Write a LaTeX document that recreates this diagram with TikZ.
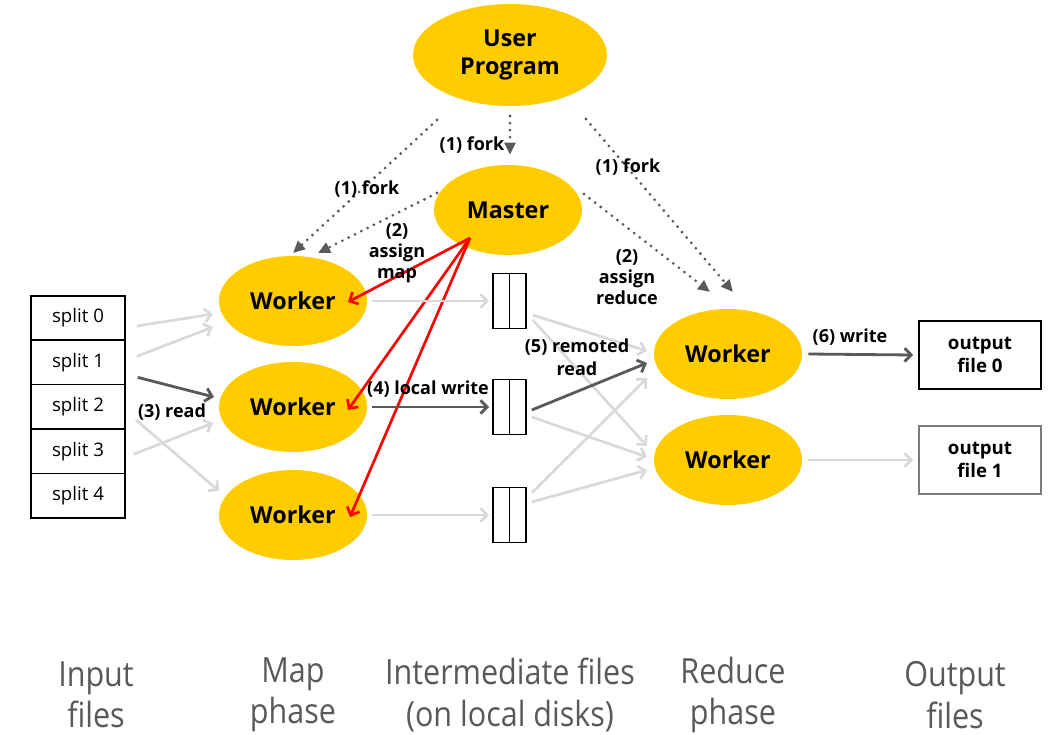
\documentclass[tikz,border=0pt]{standalone}
\usepackage{fontspec}
\setmainfont{Open Sans}
\newfontfamily\phasefont[FakeStretch=0.88]{Open Sans}
\usetikzlibrary{shapes.geometric,arrows.meta,calc}
\definecolor{procyellow}{HTML}{FFCC00}
\definecolor{darkline}{HTML}{595959}
\definecolor{liteline}{HTML}{D9D9D9}
\definecolor{phasegray}{HTML}{595959}
\begin{document}
\begin{tikzpicture}[x=0.75pt,y=-0.75pt,
  proc/.style={ellipse, fill=procyellow, draw=none, minimum width=111pt,
    minimum height=67.5pt, inner sep=0pt, align=center,
    font=\bfseries\fontsize{17.5}{20.5}\selectfont},
  splitbox/.style={draw=black, line width=1.2pt, minimum width=70.5pt,
    minimum height=33.3pt, inner sep=0pt, font=\fontsize{14}{16}\selectfont},
  disk/.style={draw=black, line width=1.2pt, minimum width=24.75pt,
    minimum height=41.25pt, inner sep=0pt},
  outbox/.style={draw=black, line width=1.2pt, minimum width=91.5pt,
    minimum height=51pt, inner sep=0pt, align=center,
    font=\bfseries\fontsize{14}{17}\selectfont},
  lbl/.style={inner sep=0pt, align=center, font=\bfseries\fontsize{13.5}{15.5}\selectfont},
  phase/.style={inner sep=0pt, align=center, text=phasegray,
    font=\phasefont\fontsize{26}{31}\selectfont},
  lite/.style={draw=liteline, line width=2pt, -{Straight Barb[length=5pt,width=10pt]}},
  dark/.style={draw=darkline, line width=2.1pt, -{Straight Barb[length=5pt,width=10pt]}},
  redarrow/.style={draw=red, line width=2pt, -{Straight Barb[length=5pt,width=10pt]}},
  forkline/.style={draw=darkline, line width=2.3pt, line cap=round,
    dash pattern=on 0pt off 5.3pt, -{Triangle[length=9pt,width=8pt]}},
]
\useasboundingbox (0,0) rectangle (1054,735);

% processes
\node[proc, minimum width=145.5pt, minimum height=76.5pt] (up) at (510,55) {User\\Program};
\node[proc] (master) at (508,210) {Master};
\node[proc] (w1) at (293,301) {Worker};
\node[proc] (w2) at (293,407) {Worker};
\node[proc] (w3) at (293,515) {Worker};
\node[proc] (r1) at (728,354) {Worker};
\node[proc] (r2) at (728,460) {Worker};

% input splits
\node[splitbox] (s0) at (78,318) {split 0};
\node[splitbox] (s1) at (78,362.4) {split 1};
\node[splitbox] (s2) at (78,406.8) {split 2};
\node[splitbox] (s3) at (78,451.2) {split 3};
\node[splitbox] (s4) at (78,495.6) {split 4};

% intermediate files
\foreach \n/\y in {i1/301, i2/407, i3/515} {
  \node[disk] (\n) at (509.5,\y) {};
  \draw[line width=1.2pt] (\n.north) -- (\n.south);
}

% output files
\node[outbox] (o0) at (980,355) {output\\file 0};
\node[outbox, draw=darkline!80] (o1) at (980,460) {output\\file 1};

% (1) fork
\draw[forkline] ($(up)+(-73,65)$) -- ($(w1)+(0,-48)$);
\draw[forkline] ($(up)+(0,61)$) -- ($(master.north)+(2,-10)$);
\draw[forkline] ($(up)+(76,64)$) -- ($(r1)+(5,-62)$);
% (2) assign
\draw[forkline] ($(master)+(-71,-17)$) -- ($(w1)+(25,-48)$);
\draw[forkline] ($(master)+(76,-16)$) -- ($(r1)+(-18,-62)$);

% master to map workers
\draw[redarrow] ($(master)+(-38,28)$) -- ($(w1)+(55,1)$);
\draw[redarrow] ($(master)+(-38,28)$) -- ($(w2)+(55,3)$);
\draw[redarrow] ($(master)+(-38,28)$) -- ($(w3)+(57,2)$);

% (3) read
\draw[lite] ($(s0.east)+(11,8)$) -- ($(w1)+(-80,13)$);
\draw[lite] ($(s1.east)+(11,-6)$) -- ($(w1)+(-80,26)$);
\draw[dark] ($(s1.east)+(12,15)$) -- ($(w2)+(-79,-10)$);
\draw[lite] ($(s2.east)+(10,13)$) -- ($(w3)+(-74,-24)$);
\draw[lite] ($(s3.east)+(8,3)$) -- ($(w2)+(-80,16)$);

% (4) local write
\draw[lite] ($(w1.east)+(5,0)$) -- ($(i1.west)+(-3,0)$);
\draw[dark] ($(w2.east)+(5,0)$) -- ($(i2.west)+(-3,0)$);
\draw[lite] ($(w3.east)+(5,0)$) -- ($(i3.west)+(-3,0)$);

% (5) remote read
\draw[lite] ($(i1.east)+(6,14)$) -- ($(r1)+(-81,-3)$);
\draw[lite] ($(i1.east)+(6,19)$) -- ($(r2)+(-81,-14)$);
\draw[lite] ($(i2.east)+(5,10)$) -- ($(r2)+(-81,-3)$);
\draw[lite] ($(i3.east)+(5,-22)$) -- ($(r1)+(-81,24)$);
\draw[lite] ($(i3.east)+(5,-13)$) -- ($(r2)+(-81,10)$);
\draw[dark] ($(i2.east)+(5,3)$) -- ($(r1)+(-81,9)$);

% (6) write
\draw[dark] ($(r1.east)+(6,0)$) -- ($(o0.west)+(-5,0)$);
\draw[lite] ($(r2.east)+(6,0)$) -- ($(o1.west)+(-5,0)$);

% labels
\node[lbl] (lfork1) at (367,189) {(1) fork};
\node[lbl] (lfork2) at (472,145) {(1) fork};
\node[lbl] (lfork3) at (628,167) {(1) fork};
\node[lbl] (lmap) at (397,253) {(2)\\assign\\map};
\node[lbl] (lred) at (627,277) {(2)\\assign\\reduce};
\node[lbl] (lread) at (172,412) {(3) read};
\node[lbl] (lwrite) at (428,389) {(4) local write};
\node[lbl] (lremote) at (577,357) {(5) remoted\\[1.5pt]read};
\node[lbl] (lout) at (850,337) {(6) write};

% phase captions
\node[phase] (pin) at (96,695) {Input\\files};
\node[phase] (pmap) at (293,695) {Map\\phase};
\node[phase] (pmid) at (510,695) {Intermediate files\\(on local disks)};
\node[phase] (pred) at (733,695) {Reduce\\phase};
\node[phase] (pout) at (955,695) {Output\\files};
\end{tikzpicture}
\end{document}
